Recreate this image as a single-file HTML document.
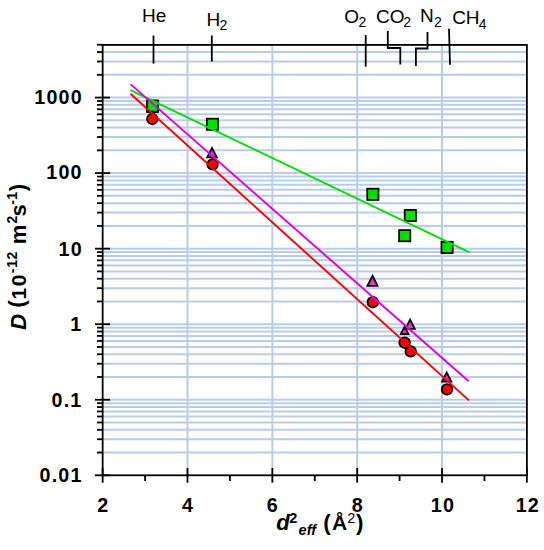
<!DOCTYPE html>
<html><head><meta charset="utf-8"><style>
html,body{margin:0;padding:0;background:#fff;}
svg{display:block;}
text{font-family:"Liberation Sans",sans-serif;fill:#000;}
</style></head><body>
<svg width="544" height="550" viewBox="0 0 544 550">
<rect width="544" height="550" fill="#fff"/>
<line x1="187.50" y1="44.7" x2="187.50" y2="475.3" stroke="#b9cce8" stroke-width="2.0"/>
<line x1="272.34" y1="44.7" x2="272.34" y2="475.3" stroke="#b9cce8" stroke-width="2.0"/>
<line x1="357.18" y1="44.7" x2="357.18" y2="475.3" stroke="#b9cce8" stroke-width="2.0"/>
<line x1="442.02" y1="44.7" x2="442.02" y2="475.3" stroke="#b9cce8" stroke-width="2.0"/>
<line x1="102.66" y1="452.56" x2="526.9" y2="452.56" stroke="#b9cce8" stroke-width="2.0"/>
<line x1="102.66" y1="439.25" x2="526.9" y2="439.25" stroke="#b9cce8" stroke-width="2.0"/>
<line x1="102.66" y1="429.81" x2="526.9" y2="429.81" stroke="#b9cce8" stroke-width="2.0"/>
<line x1="102.66" y1="422.49" x2="526.9" y2="422.49" stroke="#b9cce8" stroke-width="2.0"/>
<line x1="102.66" y1="416.51" x2="526.9" y2="416.51" stroke="#b9cce8" stroke-width="2.0"/>
<line x1="102.66" y1="411.45" x2="526.9" y2="411.45" stroke="#b9cce8" stroke-width="2.0"/>
<line x1="102.66" y1="407.07" x2="526.9" y2="407.07" stroke="#b9cce8" stroke-width="2.0"/>
<line x1="102.66" y1="403.21" x2="526.9" y2="403.21" stroke="#b9cce8" stroke-width="2.0"/>
<line x1="102.66" y1="399.75" x2="526.9" y2="399.75" stroke="#b9cce8" stroke-width="2.0"/>
<line x1="102.66" y1="377.01" x2="526.9" y2="377.01" stroke="#b9cce8" stroke-width="2.0"/>
<line x1="102.66" y1="363.70" x2="526.9" y2="363.70" stroke="#b9cce8" stroke-width="2.0"/>
<line x1="102.66" y1="354.26" x2="526.9" y2="354.26" stroke="#b9cce8" stroke-width="2.0"/>
<line x1="102.66" y1="346.94" x2="526.9" y2="346.94" stroke="#b9cce8" stroke-width="2.0"/>
<line x1="102.66" y1="340.96" x2="526.9" y2="340.96" stroke="#b9cce8" stroke-width="2.0"/>
<line x1="102.66" y1="335.90" x2="526.9" y2="335.90" stroke="#b9cce8" stroke-width="2.0"/>
<line x1="102.66" y1="331.52" x2="526.9" y2="331.52" stroke="#b9cce8" stroke-width="2.0"/>
<line x1="102.66" y1="327.66" x2="526.9" y2="327.66" stroke="#b9cce8" stroke-width="2.0"/>
<line x1="102.66" y1="324.20" x2="526.9" y2="324.20" stroke="#b9cce8" stroke-width="2.0"/>
<line x1="102.66" y1="301.46" x2="526.9" y2="301.46" stroke="#b9cce8" stroke-width="2.0"/>
<line x1="102.66" y1="288.15" x2="526.9" y2="288.15" stroke="#b9cce8" stroke-width="2.0"/>
<line x1="102.66" y1="278.71" x2="526.9" y2="278.71" stroke="#b9cce8" stroke-width="2.0"/>
<line x1="102.66" y1="271.39" x2="526.9" y2="271.39" stroke="#b9cce8" stroke-width="2.0"/>
<line x1="102.66" y1="265.41" x2="526.9" y2="265.41" stroke="#b9cce8" stroke-width="2.0"/>
<line x1="102.66" y1="260.35" x2="526.9" y2="260.35" stroke="#b9cce8" stroke-width="2.0"/>
<line x1="102.66" y1="255.97" x2="526.9" y2="255.97" stroke="#b9cce8" stroke-width="2.0"/>
<line x1="102.66" y1="252.11" x2="526.9" y2="252.11" stroke="#b9cce8" stroke-width="2.0"/>
<line x1="102.66" y1="248.65" x2="526.9" y2="248.65" stroke="#b9cce8" stroke-width="2.0"/>
<line x1="102.66" y1="225.91" x2="526.9" y2="225.91" stroke="#b9cce8" stroke-width="2.0"/>
<line x1="102.66" y1="212.60" x2="526.9" y2="212.60" stroke="#b9cce8" stroke-width="2.0"/>
<line x1="102.66" y1="203.16" x2="526.9" y2="203.16" stroke="#b9cce8" stroke-width="2.0"/>
<line x1="102.66" y1="195.84" x2="526.9" y2="195.84" stroke="#b9cce8" stroke-width="2.0"/>
<line x1="102.66" y1="189.86" x2="526.9" y2="189.86" stroke="#b9cce8" stroke-width="2.0"/>
<line x1="102.66" y1="184.80" x2="526.9" y2="184.80" stroke="#b9cce8" stroke-width="2.0"/>
<line x1="102.66" y1="180.42" x2="526.9" y2="180.42" stroke="#b9cce8" stroke-width="2.0"/>
<line x1="102.66" y1="176.56" x2="526.9" y2="176.56" stroke="#b9cce8" stroke-width="2.0"/>
<line x1="102.66" y1="173.10" x2="526.9" y2="173.10" stroke="#b9cce8" stroke-width="2.0"/>
<line x1="102.66" y1="150.36" x2="526.9" y2="150.36" stroke="#b9cce8" stroke-width="2.0"/>
<line x1="102.66" y1="137.05" x2="526.9" y2="137.05" stroke="#b9cce8" stroke-width="2.0"/>
<line x1="102.66" y1="127.61" x2="526.9" y2="127.61" stroke="#b9cce8" stroke-width="2.0"/>
<line x1="102.66" y1="120.29" x2="526.9" y2="120.29" stroke="#b9cce8" stroke-width="2.0"/>
<line x1="102.66" y1="114.31" x2="526.9" y2="114.31" stroke="#b9cce8" stroke-width="2.0"/>
<line x1="102.66" y1="109.25" x2="526.9" y2="109.25" stroke="#b9cce8" stroke-width="2.0"/>
<line x1="102.66" y1="104.87" x2="526.9" y2="104.87" stroke="#b9cce8" stroke-width="2.0"/>
<line x1="102.66" y1="101.01" x2="526.9" y2="101.01" stroke="#b9cce8" stroke-width="2.0"/>
<line x1="102.66" y1="97.55" x2="526.9" y2="97.55" stroke="#b9cce8" stroke-width="2.0"/>
<line x1="102.66" y1="74.81" x2="526.9" y2="74.81" stroke="#b9cce8" stroke-width="2.0"/>
<line x1="102.66" y1="61.50" x2="526.9" y2="61.50" stroke="#b9cce8" stroke-width="2.0"/>
<line x1="102.66" y1="52.06" x2="526.9" y2="52.06" stroke="#b9cce8" stroke-width="2.0"/>
<line x1="95" y1="475.30" x2="110" y2="475.30" stroke="#000" stroke-width="1.8"/>
<line x1="97" y1="452.56" x2="102.66" y2="452.56" stroke="#000" stroke-width="1.8"/>
<line x1="97" y1="439.25" x2="102.66" y2="439.25" stroke="#000" stroke-width="1.8"/>
<line x1="97" y1="429.81" x2="102.66" y2="429.81" stroke="#000" stroke-width="1.8"/>
<line x1="97" y1="422.49" x2="102.66" y2="422.49" stroke="#000" stroke-width="1.8"/>
<line x1="97" y1="416.51" x2="102.66" y2="416.51" stroke="#000" stroke-width="1.8"/>
<line x1="97" y1="411.45" x2="102.66" y2="411.45" stroke="#000" stroke-width="1.8"/>
<line x1="97" y1="407.07" x2="102.66" y2="407.07" stroke="#000" stroke-width="1.8"/>
<line x1="97" y1="403.21" x2="102.66" y2="403.21" stroke="#000" stroke-width="1.8"/>
<line x1="95" y1="399.75" x2="110" y2="399.75" stroke="#000" stroke-width="1.8"/>
<line x1="97" y1="377.01" x2="102.66" y2="377.01" stroke="#000" stroke-width="1.8"/>
<line x1="97" y1="363.70" x2="102.66" y2="363.70" stroke="#000" stroke-width="1.8"/>
<line x1="97" y1="354.26" x2="102.66" y2="354.26" stroke="#000" stroke-width="1.8"/>
<line x1="97" y1="346.94" x2="102.66" y2="346.94" stroke="#000" stroke-width="1.8"/>
<line x1="97" y1="340.96" x2="102.66" y2="340.96" stroke="#000" stroke-width="1.8"/>
<line x1="97" y1="335.90" x2="102.66" y2="335.90" stroke="#000" stroke-width="1.8"/>
<line x1="97" y1="331.52" x2="102.66" y2="331.52" stroke="#000" stroke-width="1.8"/>
<line x1="97" y1="327.66" x2="102.66" y2="327.66" stroke="#000" stroke-width="1.8"/>
<line x1="95" y1="324.20" x2="110" y2="324.20" stroke="#000" stroke-width="1.8"/>
<line x1="97" y1="301.46" x2="102.66" y2="301.46" stroke="#000" stroke-width="1.8"/>
<line x1="97" y1="288.15" x2="102.66" y2="288.15" stroke="#000" stroke-width="1.8"/>
<line x1="97" y1="278.71" x2="102.66" y2="278.71" stroke="#000" stroke-width="1.8"/>
<line x1="97" y1="271.39" x2="102.66" y2="271.39" stroke="#000" stroke-width="1.8"/>
<line x1="97" y1="265.41" x2="102.66" y2="265.41" stroke="#000" stroke-width="1.8"/>
<line x1="97" y1="260.35" x2="102.66" y2="260.35" stroke="#000" stroke-width="1.8"/>
<line x1="97" y1="255.97" x2="102.66" y2="255.97" stroke="#000" stroke-width="1.8"/>
<line x1="97" y1="252.11" x2="102.66" y2="252.11" stroke="#000" stroke-width="1.8"/>
<line x1="95" y1="248.65" x2="110" y2="248.65" stroke="#000" stroke-width="1.8"/>
<line x1="97" y1="225.91" x2="102.66" y2="225.91" stroke="#000" stroke-width="1.8"/>
<line x1="97" y1="212.60" x2="102.66" y2="212.60" stroke="#000" stroke-width="1.8"/>
<line x1="97" y1="203.16" x2="102.66" y2="203.16" stroke="#000" stroke-width="1.8"/>
<line x1="97" y1="195.84" x2="102.66" y2="195.84" stroke="#000" stroke-width="1.8"/>
<line x1="97" y1="189.86" x2="102.66" y2="189.86" stroke="#000" stroke-width="1.8"/>
<line x1="97" y1="184.80" x2="102.66" y2="184.80" stroke="#000" stroke-width="1.8"/>
<line x1="97" y1="180.42" x2="102.66" y2="180.42" stroke="#000" stroke-width="1.8"/>
<line x1="97" y1="176.56" x2="102.66" y2="176.56" stroke="#000" stroke-width="1.8"/>
<line x1="95" y1="173.10" x2="110" y2="173.10" stroke="#000" stroke-width="1.8"/>
<line x1="97" y1="150.36" x2="102.66" y2="150.36" stroke="#000" stroke-width="1.8"/>
<line x1="97" y1="137.05" x2="102.66" y2="137.05" stroke="#000" stroke-width="1.8"/>
<line x1="97" y1="127.61" x2="102.66" y2="127.61" stroke="#000" stroke-width="1.8"/>
<line x1="97" y1="120.29" x2="102.66" y2="120.29" stroke="#000" stroke-width="1.8"/>
<line x1="97" y1="114.31" x2="102.66" y2="114.31" stroke="#000" stroke-width="1.8"/>
<line x1="97" y1="109.25" x2="102.66" y2="109.25" stroke="#000" stroke-width="1.8"/>
<line x1="97" y1="104.87" x2="102.66" y2="104.87" stroke="#000" stroke-width="1.8"/>
<line x1="97" y1="101.01" x2="102.66" y2="101.01" stroke="#000" stroke-width="1.8"/>
<line x1="95" y1="97.55" x2="110" y2="97.55" stroke="#000" stroke-width="1.8"/>
<line x1="97" y1="74.81" x2="102.66" y2="74.81" stroke="#000" stroke-width="1.8"/>
<line x1="97" y1="61.50" x2="102.66" y2="61.50" stroke="#000" stroke-width="1.8"/>
<line x1="97" y1="52.06" x2="102.66" y2="52.06" stroke="#000" stroke-width="1.8"/>
<line x1="97" y1="44.74" x2="102.66" y2="44.74" stroke="#000" stroke-width="1.8"/>
<line x1="102.66" y1="468" x2="102.66" y2="482.7" stroke="#000" stroke-width="1.8"/>
<line x1="145.08" y1="475.3" x2="145.08" y2="481" stroke="#000" stroke-width="1.8"/>
<line x1="187.50" y1="468" x2="187.50" y2="482.7" stroke="#000" stroke-width="1.8"/>
<line x1="229.92" y1="475.3" x2="229.92" y2="481" stroke="#000" stroke-width="1.8"/>
<line x1="272.34" y1="468" x2="272.34" y2="482.7" stroke="#000" stroke-width="1.8"/>
<line x1="314.76" y1="475.3" x2="314.76" y2="481" stroke="#000" stroke-width="1.8"/>
<line x1="357.18" y1="468" x2="357.18" y2="482.7" stroke="#000" stroke-width="1.8"/>
<line x1="399.60" y1="475.3" x2="399.60" y2="481" stroke="#000" stroke-width="1.8"/>
<line x1="442.02" y1="468" x2="442.02" y2="482.7" stroke="#000" stroke-width="1.8"/>
<line x1="484.44" y1="475.3" x2="484.44" y2="481" stroke="#000" stroke-width="1.8"/>
<line x1="526.86" y1="468" x2="526.86" y2="482.7" stroke="#000" stroke-width="1.8"/>
<rect x="102.66" y="44.9" width="424.24" height="430.4" fill="none" stroke="#000" stroke-width="1.8"/>
<line x1="153.5" y1="35.5" x2="153.5" y2="63.6" stroke="#000" stroke-width="1.8"/>
<line x1="211.8" y1="35.5" x2="211.8" y2="61.6" stroke="#000" stroke-width="1.8"/>
<line x1="365.7" y1="35" x2="365.7" y2="66.6" stroke="#000" stroke-width="1.8"/>
<line x1="449" y1="28.7" x2="450" y2="64.7" stroke="#000" stroke-width="1.8"/>
<polyline points="387.8,30.9 387.8,48 400.3,48 400.3,64.5" fill="none" stroke="#000" stroke-width="1.8"/>
<polyline points="427.5,32 427.5,48.5 415.9,48.5 415.9,65.9" fill="none" stroke="#000" stroke-width="1.8"/>
<text x="39.55" y="482.15" font-size="19.7" font-weight="bold" font-style="normal" letter-spacing="1.2">0.01</text>
<text x="51.55" y="406.60" font-size="19.7" font-weight="bold" font-style="normal" letter-spacing="1.2">0.1</text>
<text x="70.30" y="331.05" font-size="19.7" font-weight="bold" font-style="normal" letter-spacing="1.2">1</text>
<text x="58.55" y="255.50" font-size="19.7" font-weight="bold" font-style="normal" letter-spacing="1.2">10</text>
<text x="46.30" y="179.40" font-size="19.7" font-weight="bold" font-style="normal" letter-spacing="1.2">100</text>
<text x="34.30" y="103.75" font-size="19.7" font-weight="bold" font-style="normal" letter-spacing="1.2">1000</text>
<text x="97.16" y="512.08" font-size="19.7" font-weight="bold" font-style="normal" letter-spacing="1.2">2</text>
<text x="182.00" y="511.95" font-size="19.7" font-weight="bold" font-style="normal" letter-spacing="1.2">4</text>
<text x="266.84" y="511.95" font-size="19.7" font-weight="bold" font-style="normal" letter-spacing="1.2">6</text>
<text x="351.68" y="511.95" font-size="19.7" font-weight="bold" font-style="normal" letter-spacing="1.2">8</text>
<text x="430.87" y="511.95" font-size="19.7" font-weight="bold" font-style="normal" letter-spacing="1.2">10</text>
<text x="515.71" y="512.08" font-size="19.7" font-weight="bold" font-style="normal" letter-spacing="1.2">12</text>
<text x="142.10" y="22.40" font-size="19" font-weight="normal" font-style="normal">He</text>
<text x="206.52" y="25.70" font-size="19" font-weight="normal" font-style="normal">H</text>
<text x="219.48" y="30.30" font-size="14" font-weight="normal" font-style="normal">2</text>
<text x="344.33" y="23.00" font-size="19" font-weight="normal" font-style="normal">O</text>
<text x="358.52" y="27.20" font-size="14" font-weight="normal" font-style="normal">2</text>
<text x="376.05" y="23.00" font-size="19" font-weight="normal" font-style="normal">CO</text>
<text x="403.18" y="27.20" font-size="14" font-weight="normal" font-style="normal">2</text>
<text x="419.98" y="22.30" font-size="19" font-weight="normal" font-style="normal">N</text>
<text x="433.93" y="27.30" font-size="14" font-weight="normal" font-style="normal">2</text>
<text x="452.15" y="24.00" font-size="19" font-weight="normal" font-style="normal">CH</text>
<text x="478.75" y="29.00" font-size="14" font-weight="normal" font-style="normal">4</text>
<text x="276.25" y="530.20" font-size="22" font-weight="bold" font-style="italic">d</text>
<text x="289.25" y="522.50" font-size="14.5" font-weight="bold" font-style="normal">2</text>
<text x="298.60" y="535.30" font-size="14.5" font-weight="bold" font-style="italic">eff</text>
<text x="323.35" y="529.60" font-size="22.5" font-weight="bold" font-style="normal">(</text>
<text x="331.95" y="530.10" font-size="21" font-weight="bold" font-style="normal">Å</text>
<text x="347.15" y="522.50" font-size="14.5" font-weight="normal" font-style="normal">2</text>
<text x="355.93" y="529.60" font-size="22.5" font-weight="bold" font-style="normal">)</text>
<g transform="translate(25.6,0) rotate(-90)"><text x="-330.00" y="0.00" font-size="22.5" font-weight="bold" font-style="italic">D</text><text x="-307.65" y="-1.20" font-size="22.5" font-weight="bold" font-style="normal">(</text><text x="-299.62" y="0.00" font-size="21" font-weight="bold" font-style="normal">1</text><text x="-286.35" y="0.00" font-size="21" font-weight="bold" font-style="normal">0</text><text x="-273.25" y="-8.20" font-size="14" font-weight="bold" font-style="normal">-</text><text x="-267.80" y="-8.20" font-size="14" font-weight="bold" font-style="normal">1</text><text x="-259.43" y="-8.20" font-size="14" font-weight="bold" font-style="normal">2</text><text x="-244.22" y="0.00" font-size="22" font-weight="bold" font-style="normal">m</text><text x="-223.43" y="-8.20" font-size="14" font-weight="bold" font-style="normal">2</text><text x="-216.60" y="0.00" font-size="22" font-weight="bold" font-style="normal">s</text><text x="-204.85" y="-8.20" font-size="14" font-weight="bold" font-style="normal">-</text><text x="-199.70" y="-8.20" font-size="14" font-weight="bold" font-style="normal">1</text><text x="-191.18" y="-0.80" font-size="22.5" font-weight="bold" font-style="normal">)</text></g>
<polygon points="152.50,102.50 147.55,112.20 157.45,112.20" fill="#e632d2" stroke="#000" stroke-width="1.75"/>
<polygon points="212.00,148.00 207.20,157.40 216.80,157.40" fill="#e632d2" stroke="#000" stroke-width="1.75"/>
<polygon points="372.50,275.80 367.40,285.80 377.60,285.80" fill="#e632d2" stroke="#000" stroke-width="1.75"/>
<polygon points="404.60,326.70 400.75,334.20 408.45,334.20" fill="#e632d2" stroke="#000" stroke-width="1.75"/>
<polygon points="410.10,319.60 405.40,328.80 414.80,328.80" fill="#e632d2" stroke="#000" stroke-width="1.75"/>
<polygon points="446.70,372.50 442.05,381.60 451.35,381.60" fill="#e632d2" stroke="#000" stroke-width="1.75"/>
<rect x="146.97" y="100.38" width="11.25" height="11.25" fill="#00e000" stroke="#000" stroke-width="1.75"/>
<rect x="206.78" y="118.67" width="11.25" height="11.25" fill="#00e000" stroke="#000" stroke-width="1.75"/>
<rect x="367.23" y="188.68" width="11.25" height="11.25" fill="#00e000" stroke="#000" stroke-width="1.75"/>
<rect x="399.07" y="230.07" width="11.25" height="11.25" fill="#00e000" stroke="#000" stroke-width="1.75"/>
<rect x="404.68" y="209.88" width="11.25" height="11.25" fill="#00e000" stroke="#000" stroke-width="1.75"/>
<rect x="441.48" y="241.78" width="11.25" height="11.25" fill="#00e000" stroke="#000" stroke-width="1.75"/>
<circle cx="152.3" cy="119" r="5.3" fill="#ff0000" stroke="#000" stroke-width="1.75"/>
<circle cx="212.6" cy="164.3" r="5.3" fill="#ff0000" stroke="#000" stroke-width="1.75"/>
<circle cx="372.8" cy="302.2" r="5.3" fill="#ff0000" stroke="#000" stroke-width="1.75"/>
<circle cx="404.6" cy="342.7" r="5.3" fill="#ff0000" stroke="#000" stroke-width="1.75"/>
<circle cx="410.7" cy="351.4" r="5.3" fill="#ff0000" stroke="#000" stroke-width="1.75"/>
<circle cx="447" cy="389.4" r="5.3" fill="#ff0000" stroke="#000" stroke-width="1.75"/>
<line x1="130.4" y1="90.2" x2="469.4" y2="252.3" stroke="#00e000" stroke-width="1.9"/>
<line x1="130.4" y1="84.1" x2="468.6" y2="381.2" stroke="#e000e0" stroke-width="1.9"/>
<line x1="130.4" y1="93.75" x2="468.9" y2="400.4" stroke="#ff0000" stroke-width="1.9"/>
</svg>
</body></html>
